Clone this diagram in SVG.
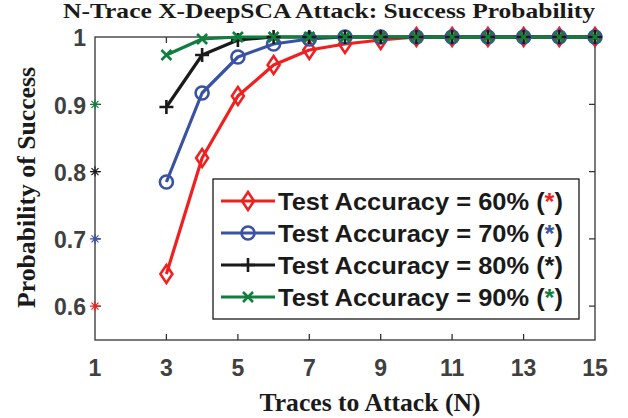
<svg xmlns="http://www.w3.org/2000/svg" width="628" height="418" viewBox="0 0 628 418">
<style>
.title{font-family:"Liberation Serif","Times New Roman",serif;font-weight:bold;fill:#1a1a1a}
.tick{font-family:"Liberation Sans",Arial,sans-serif;font-weight:bold;font-size:23px;fill:#404040}
.leg{font-family:"Liberation Sans",Arial,sans-serif;font-weight:bold;font-size:24px;fill:#1a1a1a}
.ax{fill:none;stroke:#333;stroke-width:1.3}
.s{fill:none;stroke-width:3.2;stroke-linejoin:round}
.r{stroke:#f02020}.b{stroke:#3a52a3}.k{stroke:#1a1a1a}.g{stroke:#0e7f3c}
.m{fill:none;stroke-width:2.6}
</style>
<defs>
<path id="dia" d="M0,-9 L6,0 L0,9 L-6,0 Z" class="m"/>
<circle id="cir" r="6.5" class="m"/>
<path id="plus" d="M-7,0 H7 M0,-7 V7" class="m"/>
<path id="xm" d="M-5,-5 L5,5 M-5,5 L5,-5" class="m"/>
<path id="ast" d="M-5,0 H5 M0,-5 V5 M-3.5,-3.5 L3.5,3.5 M-3.5,3.5 L3.5,-3.5" style="fill:none;stroke-width:1.2"/>
</defs>
<rect width="628" height="418" fill="#fff"/>
<text class="title" x="329" y="17.5" text-anchor="middle" font-size="21" textLength="532" lengthAdjust="spacingAndGlyphs">N-Trace X-DeepSCA Attack: Success Probability</text>
<g id="axes">
<rect class="ax" x="95" y="37" width="500" height="303"/>
<path class="ax" d="M166.4,340v-6M237.9,340v-6M309.3,340v-6M380.7,340v-6M452.1,340v-6M523.6,340v-6M166.4,37v6M237.9,37v6M309.3,37v6M380.7,37v6M452.1,37v6M523.6,37v6M95,104.3h6M95,171.6h6M95,238.9h6M95,306.2h6M595,104.3h-6M595,171.6h-6M595,238.9h-6M595,306.2h-6"/>
<g class="tick" text-anchor="end">
<text x="86" y="45.5">1</text>
<text x="86" y="113.5">0.9</text>
<text x="86" y="180.5">0.8</text>
<text x="86" y="248">0.7</text>
<text x="86" y="315">0.6</text>
</g>
<g class="tick" text-anchor="middle">
<text x="95" y="376">1</text>
<text x="166.4" y="376">3</text>
<text x="237.9" y="376">5</text>
<text x="309.3" y="376">7</text>
<text x="380.7" y="376">9</text>
<text x="452.1" y="376">11</text>
<text x="523.6" y="376">13</text>
<text x="595" y="376">15</text>
</g>
<text class="title" x="370" y="411" text-anchor="middle" font-size="26" textLength="221" lengthAdjust="spacingAndGlyphs">Traces to Attack (N)</text>
<text class="title" transform="translate(35,187.5) rotate(-90)" text-anchor="middle" font-size="26" textLength="241" lengthAdjust="spacingAndGlyphs">Probability of Success</text>
<use href="#ast" x="95" y="104.3" stroke="#0e7f3c"/>
<use href="#ast" x="95" y="171.6" stroke="#1a1a1a"/>
<use href="#ast" x="95" y="238.9" stroke="#3a52a3"/>
<use href="#ast" x="95" y="306.2" stroke="#f02020"/>
</g>
<g id="connectors">
<polyline class="s r" points="166.4,274 202.1,158 237.9,96 273.6,65 309.3,50 345,44 380.7,40 416.4,37 452.1,37 487.9,37 523.6,37 559.3,37 595,37"/>
<polyline class="s b" points="166.4,182 202.1,93 237.9,57 273.6,44 309.3,39 345,37 380.7,37 416.4,37 452.1,37 487.9,37 523.6,37 559.3,37 595,37"/>
<polyline class="s k" points="166.4,107 202.1,55 237.9,40 273.6,37 309.3,37 345,37 380.7,37 416.4,37 452.1,37 487.9,37 523.6,37 559.3,37 595,37"/>
<polyline class="s g" points="166.4,55 202.1,39 237.9,37 273.6,37 309.3,37 345,37 380.7,37 416.4,37 452.1,37 487.9,37 523.6,37 559.3,37 595,37"/>
</g>
<g id="series60" class="r">
<use href="#dia" x="166.4" y="274"/><use href="#dia" x="202.1" y="158"/><use href="#dia" x="237.9" y="96"/><use href="#dia" x="273.6" y="65"/><use href="#dia" x="309.3" y="50"/><use href="#dia" x="345" y="44"/><use href="#dia" x="380.7" y="40"/><use href="#dia" x="416.4" y="37"/><use href="#dia" x="452.1" y="37"/><use href="#dia" x="487.9" y="37"/><use href="#dia" x="523.6" y="37"/><use href="#dia" x="559.3" y="37"/><use href="#dia" x="595" y="37"/>
</g>
<g id="series70" class="b">
<use href="#cir" x="166.4" y="182"/><use href="#cir" x="202.1" y="93"/><use href="#cir" x="237.9" y="57"/><use href="#cir" x="273.6" y="44"/><use href="#cir" x="309.3" y="39"/><use href="#cir" x="345" y="37"/><use href="#cir" x="380.7" y="37"/><use href="#cir" x="416.4" y="37"/><use href="#cir" x="452.1" y="37"/><use href="#cir" x="487.9" y="37"/><use href="#cir" x="523.6" y="37"/><use href="#cir" x="559.3" y="37"/><use href="#cir" x="595" y="37"/>
</g>
<g id="series80" class="k">
<use href="#plus" x="166.4" y="107"/><use href="#plus" x="202.1" y="55"/><use href="#plus" x="237.9" y="40"/><use href="#plus" x="273.6" y="37"/><use href="#plus" x="309.3" y="37"/><use href="#plus" x="345" y="37"/><use href="#plus" x="380.7" y="37"/><use href="#plus" x="416.4" y="37"/><use href="#plus" x="452.1" y="37"/><use href="#plus" x="487.9" y="37"/><use href="#plus" x="523.6" y="37"/><use href="#plus" x="559.3" y="37"/><use href="#plus" x="595" y="37"/>
</g>
<g id="series90" class="g">
<use href="#xm" x="166.4" y="55"/><use href="#xm" x="202.1" y="39"/><use href="#xm" x="237.9" y="37"/><use href="#xm" x="273.6" y="37"/><use href="#xm" x="309.3" y="37"/><use href="#xm" x="345" y="37"/><use href="#xm" x="380.7" y="37"/><use href="#xm" x="416.4" y="37"/><use href="#xm" x="452.1" y="37"/><use href="#xm" x="487.9" y="37"/><use href="#xm" x="523.6" y="37"/><use href="#xm" x="559.3" y="37"/><use href="#xm" x="595" y="37"/>
</g>
<g id="legend">
<rect x="213" y="179" width="366" height="140" fill="#fff" stroke="#1a1a1a" stroke-width="1.3"/>
<path class="s r" d="M221,201H275"/><use href="#dia" class="r" x="248" y="201"/>
<path class="s b" d="M221,233H275"/><use href="#cir" class="b" x="248" y="233"/>
<path class="s k" d="M221,265H275"/><use href="#plus" class="k" x="248" y="265"/>
<path class="s g" d="M221,297H275"/><use href="#xm" class="g" x="248" y="297"/>
<text class="leg" x="278" y="210" textLength="285" lengthAdjust="spacingAndGlyphs">Test Accuracy = 60% (<tspan fill="#f02020">*</tspan>)</text>
<text class="leg" x="278" y="242" textLength="285" lengthAdjust="spacingAndGlyphs">Test Accuracy = 70% (<tspan fill="#3a52a3">*</tspan>)</text>
<text class="leg" x="278" y="274" textLength="285" lengthAdjust="spacingAndGlyphs">Test Accuracy = 80% (*)</text>
<text class="leg" x="278" y="306" textLength="285" lengthAdjust="spacingAndGlyphs">Test Accuracy = 90% (<tspan fill="#0e7f3c">*</tspan>)</text>
</g>
</svg>
